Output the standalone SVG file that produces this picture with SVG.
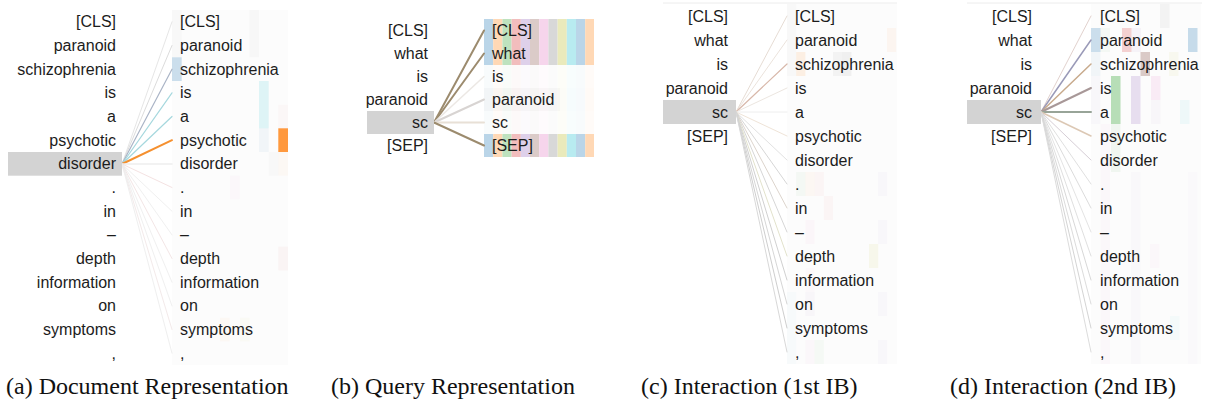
<svg xmlns="http://www.w3.org/2000/svg" width="1207" height="403" viewBox="0 0 1207 403">
<style>
.t{font-family:"Liberation Sans",Arial,sans-serif;font-size:16px;fill:#1c1c1c}
.r{text-anchor:end}
.cap{font-family:"Liberation Serif","Times New Roman",serif;font-size:24px;fill:#111}
.hl{fill:#d3d3d3}
.c line{fill:none;stroke-linecap:round}
</style>
<rect width="1207" height="403" fill="#fff"/>

<!-- ============ Panel (a) ============ -->
<g id="panel-a">
  <g id="a-heat">
    <rect x="172" y="10" width="116" height="355" fill="#fafafa" opacity="0.6"/>
    <rect x="172" y="57.3" width="9.7" height="23.7" fill="#1f77b4" opacity="0.22"/>
    <rect x="249.4" y="10" width="9.7" height="47.3" fill="#7f7f7f" opacity="0.035"/>
    <rect x="259" y="81" width="9.7" height="47.3" fill="#17becf" opacity="0.13"/>
    <rect x="259" y="128.3" width="9.7" height="23.7" fill="#1f77b4" opacity="0.05"/>
    <rect x="278.3" y="128.3" width="9.7" height="23.7" fill="#ff7f0e" opacity="0.8"/>
    <rect x="278.3" y="152" width="9.7" height="23.7" fill="#ff7f0e" opacity="0.03"/>
    <rect x="278.3" y="104.7" width="9.7" height="23.7" fill="#d62728" opacity="0.025"/>
    <rect x="230" y="175.7" width="9.7" height="23.7" fill="#e377c2" opacity="0.04"/>
    <rect x="278.3" y="246.7" width="9.7" height="23.7" fill="#d62728" opacity="0.04"/>
    <rect x="220" y="317.7" width="9.7" height="23.7" fill="#ff7f0e" opacity="0.03"/>
    <rect x="240" y="317.7" width="9.7" height="23.7" fill="#bcbd22" opacity="0.03"/>
    <rect x="172" y="10" width="9.7" height="47.3" fill="#7f7f7f" opacity="0.03"/>
    <rect x="268.7" y="152" width="9.7" height="23.7" fill="#7f7f7f" opacity="0.03"/>
  </g>
  <g id="a-conn" class="c">
    <line x1="122" y1="164" x2="172" y2="21.8" stroke="#e6e6e6" stroke-width="1"/>
    <line x1="122" y1="164" x2="172" y2="45.5" stroke="#dcdcdc" stroke-width="1"/>
    <line x1="122" y1="164" x2="172" y2="69.2" stroke="#aab4c6" stroke-width="1.2"/>
    <line x1="122" y1="164" x2="172" y2="92.8" stroke="#a6d8de" stroke-width="1.2"/>
    <line x1="122" y1="164" x2="172" y2="116.5" stroke="#a6d8de" stroke-width="1.2"/>
    <line x1="122" y1="164" x2="172" y2="140.2" stroke="#f5902f" stroke-width="2"/>
    <line x1="122" y1="164" x2="172" y2="163.9" stroke="#eeeeee" stroke-width="1.5"/>
    <line x1="122" y1="164" x2="172" y2="187.5" stroke="#f4e2e2" stroke-width="1"/>
    <line x1="122" y1="164" x2="172" y2="211.2" stroke="#f0f0f0" stroke-width="1"/>
    <line x1="122" y1="164" x2="172" y2="234.9" stroke="#f0f0f0" stroke-width="1"/>
    <line x1="122" y1="164" x2="172" y2="258.5" stroke="#f3e6e6" stroke-width="1"/>
    <line x1="122" y1="164" x2="172" y2="282.2" stroke="#f0f0f0" stroke-width="1"/>
    <line x1="122" y1="164" x2="172" y2="305.9" stroke="#f0f0f0" stroke-width="1"/>
    <line x1="122" y1="164" x2="172" y2="329.5" stroke="#f3eaea" stroke-width="1"/>
    <line x1="122" y1="164" x2="172" y2="353.2" stroke="#efefef" stroke-width="1"/>
  </g>
  <rect id="a-sel" class="hl" x="8" y="152" width="114" height="23.7"/>
  <g id="a-left" class="t r">
    <text x="116" y="27.3">[CLS]</text>
    <text x="116" y="51">paranoid</text>
    <text x="116" y="74.7">schizophrenia</text>
    <text x="116" y="98.3">is</text>
    <text x="116" y="122">a</text>
    <text x="116" y="145.7">psychotic</text>
    <text x="116" y="169.4">disorder</text>
    <text x="116" y="193">.</text>
    <text x="116" y="216.7">in</text>
    <text x="116" y="240.4">–</text>
    <text x="116" y="264">depth</text>
    <text x="116" y="287.7">information</text>
    <text x="116" y="311.4">on</text>
    <text x="116" y="335">symptoms</text>
    <text x="116" y="358.7">,</text>
  </g>
  <g id="a-right" class="t">
    <text x="180" y="27.3">[CLS]</text>
    <text x="180" y="51">paranoid</text>
    <text x="180" y="74.7">schizophrenia</text>
    <text x="180" y="98.3">is</text>
    <text x="180" y="122">a</text>
    <text x="180" y="145.7">psychotic</text>
    <text x="180" y="169.4">disorder</text>
    <text x="180" y="193">.</text>
    <text x="180" y="216.7">in</text>
    <text x="180" y="240.4">–</text>
    <text x="180" y="264">depth</text>
    <text x="180" y="287.7">information</text>
    <text x="180" y="311.4">on</text>
    <text x="180" y="335">symptoms</text>
    <text x="180" y="358.7">,</text>
  </g>
  <text class="cap" x="6" y="394">(a) Document Representation</text>
</g>

<!-- ============ Panel (b) ============ -->
<g id="panel-b">
  <defs>
    <g id="stripes">
      <rect x="0" width="9.2" height="23" fill="#1f77b4"/>
      <rect x="9.2" width="9.2" height="23" fill="#ff7f0e"/>
      <rect x="18.4" width="9.2" height="23" fill="#2ca02c"/>
      <rect x="27.6" width="9.2" height="23" fill="#d62728"/>
      <rect x="36.8" width="9.2" height="23" fill="#9467bd"/>
      <rect x="46" width="9.2" height="23" fill="#8c564b"/>
      <rect x="55.2" width="9.2" height="23" fill="#e377c2"/>
      <rect x="64.4" width="9.2" height="23" fill="#7f7f7f"/>
      <rect x="73.6" width="9.2" height="23" fill="#bcbd22"/>
      <rect x="82.8" width="9.2" height="23" fill="#17becf"/>
      <rect x="92" width="9.2" height="23" fill="#1f77b4"/>
      <rect x="101.2" width="8.8" height="23" fill="#ff7f0e"/>
    </g>
  </defs>
  <g id="b-heat">
    <use href="#stripes" x="484" y="19" opacity="0.3"/>
    <use href="#stripes" x="484" y="42" opacity="0.3"/>
    <use href="#stripes" x="484" y="65" opacity="0.025"/>
    <use href="#stripes" x="484" y="88" opacity="0.03"/>
    <rect x="484" y="88" width="76" height="23" fill="#7f7f7f" opacity="0.04"/>
    <use href="#stripes" x="484" y="111" opacity="0.025"/>
    <use href="#stripes" x="484" y="134" opacity="0.3"/>
  </g>
  <g id="b-conn" class="c">
    <line x1="434" y1="122.5" x2="484" y2="30.5" stroke="#9c8b6e" stroke-width="2"/>
    <line x1="434" y1="122.5" x2="484" y2="53.5" stroke="#9c8b6e" stroke-width="2"/>
    <line x1="434" y1="122.5" x2="484" y2="76.5" stroke="#ece8e4" stroke-width="1.5"/>
    <line x1="434" y1="122.5" x2="484" y2="99.5" stroke="#d8d4d2" stroke-width="2"/>
    <line x1="434" y1="122.5" x2="484" y2="122.5" stroke="#e8e0d6" stroke-width="2"/>
    <line x1="434" y1="122.5" x2="484" y2="145.5" stroke="#9c8b6e" stroke-width="2"/>
  </g>
  <rect id="b-sel" class="hl" x="367" y="111" width="67" height="23"/>
  <g id="b-left" class="t r">
    <text x="428" y="36">[CLS]</text>
    <text x="428" y="59">what</text>
    <text x="428" y="82">is</text>
    <text x="428" y="105">paranoid</text>
    <text x="428" y="128">sc</text>
    <text x="428" y="151">[SEP]</text>
  </g>
  <g id="b-right" class="t">
    <text x="492" y="36">[CLS]</text>
    <text x="492" y="59">what</text>
    <text x="492" y="82">is</text>
    <text x="492" y="105">paranoid</text>
    <text x="492" y="128">sc</text>
    <text x="492" y="151">[SEP]</text>
  </g>
  <text class="cap" x="331" y="394">(b) Query Representation</text>
</g>

<!-- ============ Panel (c) ============ -->
<g id="panel-c">
  <line x1="663" y1="3" x2="897" y2="3" stroke="#ececec" stroke-width="1"/>
  <g id="c-heat">
    <rect x="787" y="4" width="110" height="360" fill="#fbfbfb" opacity="0.7"/>
    <rect x="787" y="4" width="9.2" height="72" fill="#7f7f7f" opacity="0.03"/>
    <rect x="887" y="28" width="9.2" height="24" fill="#ff7f0e" opacity="0.05"/>
    <rect x="796.2" y="52" width="9.2" height="24" fill="#ff7f0e" opacity="0.1"/>
    <rect x="833" y="52" width="9.2" height="24" fill="#7f7f7f" opacity="0.07"/>
    <rect x="842.2" y="52" width="9.2" height="24" fill="#7f7f7f" opacity="0.09"/>
    <rect x="796.2" y="172" width="9.2" height="24" fill="#2ca02c" opacity="0.04"/>
    <rect x="805.4" y="172" width="9.2" height="24" fill="#ff7f0e" opacity="0.04"/>
    <rect x="814.6" y="172" width="9.2" height="24" fill="#d62728" opacity="0.03"/>
    <rect x="878" y="172" width="9.2" height="24" fill="#9467bd" opacity="0.035"/>
    <rect x="823.8" y="196" width="9.2" height="24" fill="#d62728" opacity="0.03"/>
    <rect x="805.4" y="220" width="9.2" height="24" fill="#e377c2" opacity="0.045"/>
    <rect x="878" y="220" width="9.2" height="24" fill="#9467bd" opacity="0.035"/>
    <rect x="869" y="244" width="9.2" height="24" fill="#bcbd22" opacity="0.08"/>
    <rect x="805.4" y="268" width="9.2" height="24" fill="#e377c2" opacity="0.03"/>
    <rect x="805.4" y="292" width="9.2" height="24" fill="#9467bd" opacity="0.04"/>
    <rect x="878" y="292" width="9.2" height="24" fill="#9467bd" opacity="0.035"/>
    <rect x="805.4" y="340" width="9.2" height="24" fill="#e377c2" opacity="0.04"/>
    <rect x="814.6" y="340" width="9.2" height="24" fill="#2ca02c" opacity="0.03"/>
    <rect x="878" y="340" width="9.2" height="24" fill="#9467bd" opacity="0.035"/>
    <rect x="787" y="292" width="9.2" height="72" fill="#17becf" opacity="0.025"/>
  </g>
  <g id="c-conn" class="c">
    <line x1="736" y1="112" x2="787" y2="16" stroke="#e6dcd4" stroke-width="1"/>
    <line x1="736" y1="112" x2="787" y2="40" stroke="#ebe3dc" stroke-width="1"/>
    <line x1="736" y1="112" x2="787" y2="64" stroke="#d8b8aa" stroke-width="1.2"/>
    <line x1="736" y1="112" x2="787" y2="88" stroke="#ece6e0" stroke-width="1"/>
    <line x1="736" y1="112" x2="787" y2="112" stroke="#eeeeee" stroke-width="1"/>
    <line x1="736" y1="112" x2="787" y2="136" stroke="#efe4d8" stroke-width="1"/>
    <line x1="736" y1="112" x2="787" y2="160" stroke="#e2e2e2" stroke-width="1"/>
    <line x1="736" y1="112" x2="787" y2="184" stroke="#d6d6d6" stroke-width="1"/>
    <line x1="736" y1="112" x2="787" y2="208" stroke="#dcd4cc" stroke-width="1"/>
    <line x1="736" y1="112" x2="787" y2="232" stroke="#d6d6d6" stroke-width="1"/>
    <line x1="736" y1="112" x2="787" y2="256" stroke="#e2e2cc" stroke-width="1"/>
    <line x1="736" y1="112" x2="787" y2="280" stroke="#d0d0d0" stroke-width="1"/>
    <line x1="736" y1="112" x2="787" y2="304" stroke="#d6d6d6" stroke-width="1"/>
    <line x1="736" y1="112" x2="787" y2="328" stroke="#cecece" stroke-width="1"/>
    <line x1="736" y1="112" x2="787" y2="352" stroke="#d8d8d8" stroke-width="1"/>
  </g>
  <rect id="c-sel" class="hl" x="663" y="100" width="73" height="24"/>
  <g id="c-left" class="t r">
    <text x="728" y="21.5">[CLS]</text>
    <text x="728" y="45.5">what</text>
    <text x="728" y="69.5">is</text>
    <text x="728" y="93.5">paranoid</text>
    <text x="728" y="117.5">sc</text>
    <text x="728" y="141.5">[SEP]</text>
  </g>
  <g id="c-right" class="t">
    <text x="795" y="21.5">[CLS]</text>
    <text x="795" y="45.5">paranoid</text>
    <text x="795" y="69.5">schizophrenia</text>
    <text x="795" y="93.5">is</text>
    <text x="795" y="117.5">a</text>
    <text x="795" y="141.5">psychotic</text>
    <text x="795" y="165.5">disorder</text>
    <text x="795" y="189.5">.</text>
    <text x="795" y="213.5">in</text>
    <text x="795" y="237.5">–</text>
    <text x="795" y="261.5">depth</text>
    <text x="795" y="285.5">information</text>
    <text x="795" y="309.5">on</text>
    <text x="795" y="333.5">symptoms</text>
    <text x="795" y="357.5">,</text>
  </g>
  <text class="cap" x="641" y="394">(c) Interaction (1st IB)</text>
</g>

<!-- ============ Panel (d) ============ -->
<g id="panel-d">
  <line x1="967" y1="3" x2="1202" y2="3" stroke="#ececec" stroke-width="1"/>
  <g id="d-heat">
    <rect x="1091" y="4" width="110" height="360" fill="#fbfbfb" opacity="0.7"/>
    <rect x="1160" y="4" width="9.5" height="24" fill="#7f7f7f" opacity="0.07"/>
    <rect x="1091" y="28" width="9.5" height="24" fill="#1f77b4" opacity="0.22"/>
    <rect x="1100.5" y="28" width="9.5" height="24" fill="#2ca02c" opacity="0.04"/>
    <rect x="1122" y="28" width="9.5" height="24" fill="#d62728" opacity="0.2"/>
    <rect x="1131.5" y="28" width="9.5" height="24" fill="#9467bd" opacity="0.06"/>
    <rect x="1188" y="28" width="9.5" height="24" fill="#1f77b4" opacity="0.24"/>
    <rect x="1140.5" y="52" width="9.5" height="24" fill="#8c564b" opacity="0.3"/>
    <rect x="1091" y="52" width="9.5" height="24" fill="#1f77b4" opacity="0.05"/>
    <rect x="1169" y="52" width="9.5" height="24" fill="#bcbd22" opacity="0.06"/>
    <rect x="1111" y="76" width="9.5" height="48" fill="#2ca02c" opacity="0.33"/>
    <rect x="1111" y="124" width="9.5" height="48" fill="#2ca02c" opacity="0.06"/>
    <rect x="1131" y="76" width="9.5" height="48" fill="#9467bd" opacity="0.2"/>
    <rect x="1151" y="76" width="9.5" height="24" fill="#e377c2" opacity="0.12"/>
    <rect x="1151" y="100" width="9.5" height="24" fill="#9467bd" opacity="0.04"/>
    <rect x="1180" y="100" width="9.5" height="24" fill="#17becf" opacity="0.06"/>
    <rect x="1091" y="76" width="9.5" height="48" fill="#9467bd" opacity="0.035"/>
    <rect x="1100.5" y="124" width="9.5" height="240" fill="#e377c2" opacity="0.035"/>
    <rect x="1131" y="172" width="9.5" height="192" fill="#9467bd" opacity="0.025"/>
    <rect x="1188" y="172" width="9.5" height="192" fill="#9467bd" opacity="0.018"/>
    <rect x="1150" y="244" width="9.5" height="24" fill="#e377c2" opacity="0.035"/>
    <rect x="1170" y="316" width="9.5" height="24" fill="#17becf" opacity="0.035"/>
  </g>
  <g id="d-conn" class="c">
    <line x1="1041" y1="112" x2="1091" y2="16" stroke="#e2d2ce" stroke-width="1"/>
    <line x1="1041" y1="112" x2="1091" y2="40" stroke="#9a9ab8" stroke-width="1.5"/>
    <line x1="1041" y1="112" x2="1091" y2="64" stroke="#c8aa8c" stroke-width="1.5"/>
    <line x1="1041" y1="112" x2="1091" y2="88" stroke="#a89898" stroke-width="2"/>
    <line x1="1041" y1="112" x2="1091" y2="112" stroke="#98a498" stroke-width="2"/>
    <line x1="1041" y1="112" x2="1091" y2="136" stroke="#dcc8b4" stroke-width="1.5"/>
    <line x1="1041" y1="112" x2="1091" y2="160" stroke="#d6ced6" stroke-width="1"/>
    <line x1="1041" y1="112" x2="1091" y2="184" stroke="#e0e0e0" stroke-width="1"/>
    <line x1="1041" y1="112" x2="1091" y2="208" stroke="#dcdcdc" stroke-width="1"/>
    <line x1="1041" y1="112" x2="1091" y2="232" stroke="#e4e4e4" stroke-width="1"/>
    <line x1="1041" y1="112" x2="1091" y2="256" stroke="#e0e0e0" stroke-width="1"/>
    <line x1="1041" y1="112" x2="1091" y2="280" stroke="#d8d8d8" stroke-width="1"/>
    <line x1="1041" y1="112" x2="1091" y2="304" stroke="#dcdcdc" stroke-width="1"/>
    <line x1="1041" y1="112" x2="1091" y2="328" stroke="#d4d4d4" stroke-width="1"/>
    <line x1="1041" y1="112" x2="1091" y2="352" stroke="#dcdcdc" stroke-width="1"/>
  </g>
  <rect id="d-sel" class="hl" x="967" y="100" width="74" height="24"/>
  <g id="d-left" class="t r">
    <text x="1032" y="21.5">[CLS]</text>
    <text x="1032" y="45.5">what</text>
    <text x="1032" y="69.5">is</text>
    <text x="1032" y="93.5">paranoid</text>
    <text x="1032" y="117.5">sc</text>
    <text x="1032" y="141.5">[SEP]</text>
  </g>
  <g id="d-right" class="t">
    <text x="1100" y="21.5">[CLS]</text>
    <text x="1100" y="45.5">paranoid</text>
    <text x="1100" y="69.5">schizophrenia</text>
    <text x="1100" y="93.5">is</text>
    <text x="1100" y="117.5">a</text>
    <text x="1100" y="141.5">psychotic</text>
    <text x="1100" y="165.5">disorder</text>
    <text x="1100" y="189.5">.</text>
    <text x="1100" y="213.5">in</text>
    <text x="1100" y="237.5">–</text>
    <text x="1100" y="261.5">depth</text>
    <text x="1100" y="285.5">information</text>
    <text x="1100" y="309.5">on</text>
    <text x="1100" y="333.5">symptoms</text>
    <text x="1100" y="357.5">,</text>
  </g>
  <text class="cap" x="950" y="394">(d) Interaction (2nd IB)</text>
</g>
</svg>
